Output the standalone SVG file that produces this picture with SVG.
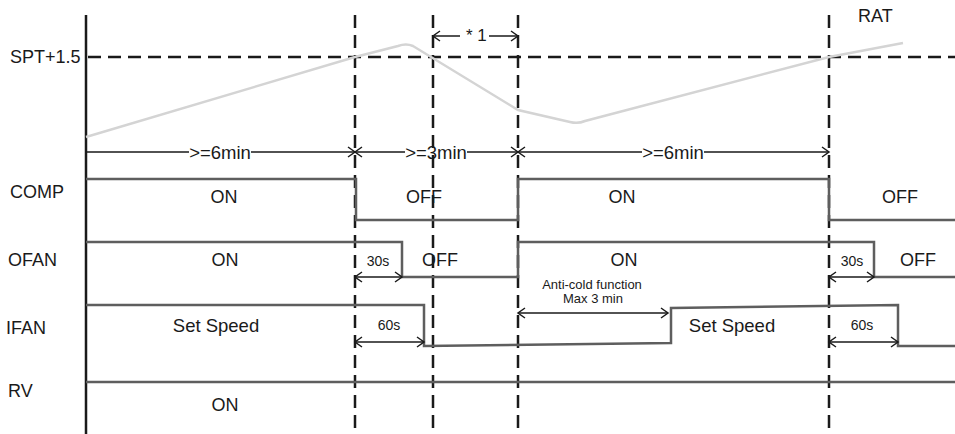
<svg xmlns="http://www.w3.org/2000/svg" width="955" height="434" viewBox="0 0 955 434">
<defs>
<marker id="ah" markerUnits="userSpaceOnUse" markerWidth="12" markerHeight="12" refX="7" refY="5" orient="auto-start-reverse" viewBox="0 0 12 10" overflow="visible">
<path d="M0,0 L7,5 L0,10" fill="none" stroke="#1a1a1a" stroke-width="1.5"/>
</marker>
<style>
text{font-family:"Liberation Sans",Arial,sans-serif;fill:#1a1a1a}
.lb{font-size:18px}
.md{font-size:18.5px}
.sm{font-size:14px}
.xs{font-size:13px}
.mid{text-anchor:middle}
.dash{stroke:#1a1a1a;stroke-width:2.5;stroke-dasharray:13 7;fill:none}
.sig{stroke:#5e5e5e;stroke-width:2.5;fill:none;stroke-linejoin:miter}
.arr{stroke:#1a1a1a;stroke-width:1.5;fill:none}
.dbl{stroke:#1a1a1a;stroke-width:1.5;fill:none;marker-start:url(#ah);marker-end:url(#ah)}
</style>
</defs>
<rect width="955" height="434" fill="#ffffff"/>

<g id="grid">
<line class="dash" x1="88" y1="57" x2="955" y2="57"/>
<line class="dash" x1="355" y1="15" x2="355" y2="434"/>
<line class="dash" x1="433" y1="15" x2="433" y2="434"/>
<line class="dash" x1="518" y1="15" x2="518" y2="434"/>
<line class="dash" x1="829" y1="15" x2="829" y2="434"/>
<line x1="86" y1="15" x2="86" y2="434" stroke="#1a1a1a" stroke-width="2.5"/>
</g>

<g id="rat">
<path d="M86,137 L355,57 L398,46 Q406,43 413,46 L518,110 L570,122 Q578,124 585,121 L829,57 L903,43" fill="none" stroke="#d4d4d4" stroke-width="2.5"/>
<text class="lb" x="858" y="22">RAT</text>
<text class="lb" x="10" y="63">SPT+1.5</text>
</g>

<g id="star1">
<path class="arr" d="M460,36 H433" marker-end="url(#ah)"/>
<path class="arr" d="M489,36 H518" marker-end="url(#ah)"/>
<text x="466" y="41" font-size="17">* 1</text>
</g>

<g id="timeline">
<path class="arr" d="M86,152 H189 M251,152 H355" marker-end="url(#ah)"/>
<text class="md mid" x="220" y="158.5">&gt;=6min</text>
<path class="arr" d="M355,152 H405 M467,152 H518" marker-start="url(#ah)" marker-end="url(#ah)"/>
<text class="md mid" x="436" y="158.5">&gt;=3min</text>
<path class="arr" d="M518,152 H642 M704,152 H829" marker-start="url(#ah)" marker-end="url(#ah)"/>
<text class="md mid" x="673" y="158.5">&gt;=6min</text>
</g>

<g id="comp">
<text class="lb" x="10" y="198">COMP</text>
<path class="sig" d="M86,179 H356 V220 H518 V179 H829 V220 H955"/>
<text class="lb mid" x="224" y="203">ON</text>
<text class="lb mid" x="424" y="203">OFF</text>
<text class="lb mid" x="622" y="203">ON</text>
<text class="lb mid" x="900" y="203">OFF</text>
</g>

<g id="ofan">
<text class="lb" x="8" y="266">OFAN</text>
<path class="sig" d="M86,242 H402 V277 H518 V242 H874 V277 H955"/>
<text class="lb mid" x="225" y="266">ON</text>
<text class="lb mid" x="440" y="266">OFF</text>
<text class="lb mid" x="624" y="266">ON</text>
<text class="lb mid" x="918" y="266">OFF</text>
<path class="dbl" d="M355,277 H402"/>
<text class="sm mid" x="378" y="266">30s</text>
<path class="dbl" d="M829,277 H874"/>
<text class="sm mid" x="852" y="266">30s</text>
</g>

<g id="ifan">
<text class="lb" x="6" y="334">IFAN</text>
<path class="sig" d="M86,305 H424 V346 L671,343 V308 L898,305 V346 H955"/>
<text class="md mid" x="216" y="332">Set Speed</text>
<text class="md mid" x="732" y="332">Set Speed</text>
<path class="dbl" d="M355,342 H424"/>
<text class="sm mid" x="389" y="330">60s</text>
<path class="dbl" d="M829,342 H898"/>
<text class="sm mid" x="862" y="330">60s</text>
<path class="dbl" d="M518,313 H668"/>
<text class="xs mid" x="592" y="289">Anti-cold function</text>
<text class="xs mid" x="593" y="303">Max 3 min</text>
</g>

<g id="rv">
<text class="lb" x="8" y="397">RV</text>
<path class="sig" d="M86,382 H955"/>
<text class="lb mid" x="225" y="411">ON</text>
</g>
</svg>
